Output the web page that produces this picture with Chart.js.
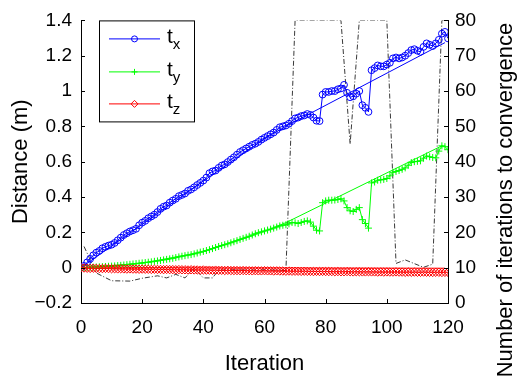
<!DOCTYPE html>
<html><head><meta charset="utf-8">
<script src="https://cdn.jsdelivr.net/npm/chart.js@4/dist/chart.umd.min.js"></script>
<style>html,body{margin:0;padding:0;background:#fff;}canvas{display:block;}</style>
</head><body>
<canvas id="c" width="517" height="385"></canvas>
<script>
// ---- data ----
const iterations = [0,1,2,3,4,5,6,7,8,9,10,11,12,13,14,15,16,17,18,19,20,21,22,23,24,25,26,27,28,29,30,31,32,33,34,35,36,37,38,39,40,41,42,43,44,45,46,47,48,49,50,51,52,53,54,55,56,57,58,59,60,61,62,63,64,65,66,67,68,69,70,71,72,73,74,75,76,77,78,79,80,81,82,83,84,85,86,87,88,89,90,91,92,93,94,95,96,97,98,99,100,101,102,103,104,105,106,107,108,109,110,111,112,113,114,115,116,117,118,119,120];
const tx = [0.00,0.01,0.03,0.05,0.07,0.085,0.095,0.11,0.118,0.125,
 0.13,0.14,0.155,0.17,0.185,0.195,0.205,0.212,0.22,0.24,
 0.255,0.265,0.28,0.29,0.30,0.315,0.333,0.345,0.352,0.368,
 0.38,0.39,0.405,0.412,0.42,0.435,0.443,0.455,0.468,0.48,
 0.493,0.51,0.535,0.545,0.55,0.565,0.578,0.585,0.598,0.612,
 0.625,0.64,0.655,0.665,0.675,0.685,0.695,0.702,0.712,0.725,
 0.735,0.745,0.755,0.765,0.78,0.795,0.80,0.805,0.815,0.83,
 0.845,0.85,0.858,0.862,0.87,0.865,0.85,0.832,0.83,0.98,
 0.995,0.995,1.00,1.00,1.01,1.015,1.035,0.99,0.965,0.97,
 0.985,1.00,0.92,0.905,0.882,1.118,1.13,1.145,1.14,1.14,
 1.15,1.16,1.185,1.19,1.185,1.19,1.20,1.215,1.232,1.237,
 1.228,1.222,1.25,1.27,1.262,1.255,1.27,1.29,1.325,1.335,
 1.298];
const ty = [0.0,0.0,0.001,0.002,0.003,0.004,0.005,0.006,0.007,0.008,
 0.009,0.01,0.012,0.013,0.015,0.017,0.019,0.021,0.023,0.025,
 0.027,0.029,0.031,0.033,0.036,0.038,0.041,0.044,0.047,0.05,
 0.053,0.057,0.061,0.065,0.068,0.071,0.074,0.078,0.083,0.088,
 0.092,0.097,0.102,0.108,0.114,0.12,0.125,0.13,0.135,0.141,
 0.147,0.153,0.16,0.166,0.172,0.178,0.185,0.192,0.198,0.203,
 0.208,0.213,0.218,0.224,0.23,0.236,0.24,0.243,0.248,0.256,
 0.254,0.25,0.256,0.262,0.265,0.258,0.235,0.212,0.208,0.368,
 0.378,0.382,0.382,0.383,0.386,0.39,0.378,0.34,0.322,0.318,
 0.33,0.34,0.272,0.25,0.224,0.48,0.485,0.495,0.497,0.50,
 0.505,0.52,0.54,0.545,0.55,0.557,0.565,0.58,0.595,0.60,
 0.602,0.605,0.62,0.632,0.628,0.624,0.622,0.66,0.69,0.685,
 0.668];
const tz = [0,-0.002,-0.003,-0.004,-0.003,-0.004,-0.005,-0.005,-0.004,-0.005,
 -0.006,-0.006,-0.007,-0.006,-0.007,-0.008,-0.007,-0.008,-0.008,-0.009,
 -0.008,-0.009,-0.009,-0.01,-0.009,-0.01,-0.01,-0.011,-0.01,-0.011,
 -0.011,-0.012,-0.011,-0.012,-0.012,-0.013,-0.012,-0.013,-0.013,-0.014,
 -0.013,-0.014,-0.014,-0.015,-0.014,-0.015,-0.015,-0.016,-0.015,-0.016,
 -0.016,-0.016,-0.017,-0.016,-0.017,-0.017,-0.018,-0.017,-0.018,-0.018,
 -0.017,-0.018,-0.018,-0.019,-0.018,-0.019,-0.019,-0.02,-0.019,-0.02,
 -0.02,-0.02,-0.021,-0.02,-0.021,-0.021,-0.022,-0.021,-0.022,-0.021,
 -0.022,-0.022,-0.022,-0.023,-0.022,-0.023,-0.023,-0.022,-0.023,-0.024,
 -0.023,-0.023,-0.024,-0.024,-0.023,-0.024,-0.024,-0.025,-0.024,-0.025,
 -0.024,-0.025,-0.025,-0.024,-0.025,-0.025,-0.026,-0.025,-0.026,-0.025,
 -0.026,-0.026,-0.025,-0.026,-0.026,-0.027,-0.026,-0.026,-0.027,-0.026,
 -0.026];
// thin reference (ground-truth) lines
const txTruthIter = [0,20,40,60,68,119];
const txTruthVal  = [0,0.245,0.49,0.73,0.81,1.274];
const tyTruthIter = [0,20,40,60,67,118];
const tyTruthVal  = [0,0.025,0.09,0.205,0.255,0.69];
const tzTruthIter = [0,119];
const tzTruthVal  = [0,-0.003];
// iterations to convergence (right axis)
const convIter = [1,5,10,16,20,25,28,31,34,37,40,43,45,50,55,60,67,70,85,88,91,100,103,106,112,115,118,120];
const convVal  = [16,8.5,6.3,6.2,7,7.7,7.1,8.1,7.1,9.9,7.1,7.1,9.3,9.4,9.3,9.4,9.2,80,80,45,80,80,11.2,12.2,10.1,11,80,80];
// ticks
const xTicks = [0,20,40,60,80,100,120];
const leftTicks = [-0.2,0,0.2,0.4,0.6,0.8,1,1.2,1.4];
const leftTickLabels = ['\u22120.2','0','0.2','0.4','0.6','0.8','1','1.2','1.4'];
const rightTicks = [0,10,20,30,40,50,60,70,80];
const seriesBase = ['t','t','t'];
const seriesSub = ['x','y','z'];
const xTitle = 'Iteration';
const leftTitle = 'Distance (m)';
const rightTitle = 'Number of iterations to convergence';

// ---- build ----
const pts = (xs, ys) => xs.map((x, i) => ({x: x, y: ys[i]}));
const FONT = 'Liberation Sans, Arial, Helvetica, sans-serif';
Chart.defaults.font.family = FONT;
Chart.defaults.color = '#000';
const BLUE = '#0000ff', GREEN = '#00ff00', RED = '#ff0000';

const inwardTicks = {
  id: 'inwardTicks',
  afterDraw(chart) {
    const {ctx, chartArea: a, scales} = chart;
    ctx.save();
    ctx.strokeStyle = '#000'; ctx.lineWidth = 1;
    ctx.beginPath();
    scales.x.ticks.forEach(t => { const p = Math.round(scales.x.getPixelForValue(t.value)) + 0.5; ctx.moveTo(p, a.bottom); ctx.lineTo(p, a.bottom - 4); });
    scales.y.ticks.forEach(t => { const p = Math.round(scales.y.getPixelForValue(t.value)) + 0.5; ctx.moveTo(a.left, p); ctx.lineTo(a.left + 4, p); });
    scales.y2.ticks.forEach(t => { const p = Math.round(scales.y2.getPixelForValue(t.value)) + 0.5; ctx.moveTo(a.right, p); ctx.lineTo(a.right - 4, p); });
    ctx.stroke();
    ctx.restore();
  }
};

function drawMarker(ctx, style, x, y, r, color) {
  ctx.save();
  ctx.strokeStyle = color; ctx.lineWidth = 1;
  ctx.beginPath();
  if (style === 'circle') { ctx.arc(x, y, r, 0, Math.PI * 2); }
  else if (style === 'cross') { ctx.moveTo(x - r, y); ctx.lineTo(x + r, y); ctx.moveTo(x, y - r); ctx.lineTo(x, y + r); }
  else if (style === 'rectRot') { ctx.moveTo(x, y - r); ctx.lineTo(x + r, y); ctx.lineTo(x, y + r); ctx.lineTo(x - r, y); ctx.closePath(); }
  ctx.stroke();
  ctx.restore();
}

const customLegend = {
  id: 'customLegend',
  afterDraw(chart) {
    const {ctx, chartArea: a} = chart;
    const bx = a.left + 18, by = a.top, bw = 95, bh = 101;
    ctx.save();
    ctx.fillStyle = '#fff';
    ctx.fillRect(bx, by, bw, bh);
    ctx.strokeStyle = '#000'; ctx.lineWidth = 1;
    ctx.strokeRect(bx + 0.5, by + 0.5, bw, bh);
    const markers = chart.data.datasets.slice(0, 3);
    const rows = [18, 51, 83];
    markers.forEach((ds, i) => {
      const yy = by + rows[i] + 0.5;
      ctx.strokeStyle = ds.borderColor; ctx.lineWidth = 1;
      ctx.beginPath(); ctx.moveTo(bx + 10, yy); ctx.lineTo(bx + 61, yy); ctx.stroke();
      drawMarker(ctx, ds.pointStyle, bx + 35.5, yy, ds.pointStyle === 'rectRot' ? 3.5 : 3, ds.borderColor);
      ctx.fillStyle = '#000';
      ctx.textBaseline = 'alphabetic'; ctx.textAlign = 'left';
      ctx.font = '21px ' + FONT;
      ctx.fillText(seriesBase[i], bx + 68, yy + 4);
      const w = ctx.measureText(seriesBase[i]).width;
      ctx.font = '15px ' + FONT;
      ctx.fillText(seriesSub[i], bx + 68 + w, yy + 10);
    });
    // right axis title
    ctx.font = '22px ' + FONT;
    ctx.fillStyle = '#000';
    ctx.textAlign = 'center'; ctx.textBaseline = 'middle';
    ctx.translate(506, 200);
    ctx.rotate(-Math.PI / 2);
    ctx.fillText(rightTitle, 0, 0);
    ctx.restore();
  }
};

const markerCommon = {borderWidth: 1, pointBorderWidth: 1, pointBackgroundColor: 'rgba(0,0,0,0)', pointHoverRadius: 3, yAxisID: 'y'};

new Chart(document.getElementById('c'), {
  type: 'line',
  data: {
    datasets: [
      Object.assign({label: 'tx', data: pts(iterations, tx), borderColor: BLUE, pointBorderColor: BLUE, pointStyle: 'circle', pointRadius: 3.4, order: 3}, markerCommon),
      Object.assign({label: 'ty', data: pts(iterations, ty), borderColor: GREEN, pointBorderColor: GREEN, pointStyle: 'cross', pointRadius: 3.5, order: 2}, markerCommon),
      Object.assign({label: 'tz', data: pts(iterations, tz), borderColor: RED, pointBorderColor: RED, pointStyle: 'rectRot', pointRadius: 4.2, order: 1}, markerCommon),
      {label: 'tx ref', data: pts(txTruthIter, txTruthVal), borderColor: BLUE, borderWidth: 1, pointRadius: 0, yAxisID: 'y', order: 6},
      {label: 'ty ref', data: pts(tyTruthIter, tyTruthVal), borderColor: GREEN, borderWidth: 1, pointRadius: 0, yAxisID: 'y', order: 5},
      {label: 'tz ref', data: pts(tzTruthIter, tzTruthVal), borderColor: RED, borderWidth: 1, pointRadius: 0, yAxisID: 'y', order: 4},
      {label: 'iterations', data: pts(convIter, convVal), borderColor: '#222', borderWidth: 0.9, borderDash: [5, 2, 1, 2], pointRadius: 0, yAxisID: 'y2', order: 7}
    ]
  },
  options: {
    responsive: false,
    animation: false,
    events: [],
    elements: {line: {tension: 0, fill: false}},
    layout: {padding: {top: 15, left: 0, right: 0, bottom: 0}},
    plugins: {legend: {display: false}, tooltip: {enabled: false}, title: {display: false}},
    scales: {
      x: {
        type: 'linear', min: 0, max: 120, position: 'bottom',
        afterBuildTicks: s => { s.ticks = xTicks.map(v => ({value: v})); },
        afterFit: s => { s.height = 82; },
        grid: {display: true, drawOnChartArea: false, drawTicks: false},
        border: {display: true, color: '#000', width: 1},
        ticks: {font: {size: 19}, padding: 13, maxRotation: 0, color: '#000'},
        title: {display: true, text: xTitle, font: {size: 22}, padding: {top: 0, bottom: 8}, color: '#000'}
      },
      y: {
        type: 'linear', min: -0.2, max: 1.4, position: 'left',
        afterBuildTicks: s => { s.ticks = leftTicks.map(v => ({value: v})); },
        afterFit: s => { s.width = 81; },
        grid: {display: true, drawOnChartArea: false, drawTicks: false},
        border: {display: true, color: '#000', width: 1},
        ticks: {font: {size: 19}, padding: 9, color: '#000', callback: (v, i) => leftTickLabels[i]},
        title: {display: true, text: leftTitle, font: {size: 22}, padding: {top: 8, bottom: 0}, color: '#000'}
      },
      y2: {
        type: 'linear', min: 0, max: 80, position: 'right',
        afterBuildTicks: s => { s.ticks = rightTicks.map(v => ({value: v})); },
        afterFit: s => { s.width = 69; },
        grid: {display: true, drawOnChartArea: false, drawTicks: false},
        border: {display: true, color: '#000', width: 1},
        ticks: {font: {size: 19}, padding: 7, color: '#000'}
      }
    }
  },
  plugins: [inwardTicks, customLegend]
});
</script>
</body></html>
